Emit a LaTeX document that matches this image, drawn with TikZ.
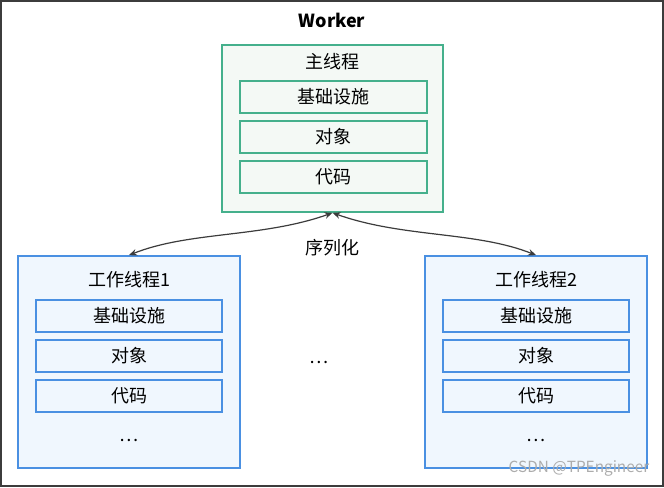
\documentclass[tikz,border=0pt]{standalone}
\usepackage{fontspec}
\setmainfont{Noto Sans CJK SC}
\usetikzlibrary{arrows.meta, positioning, calc}
\definecolor{mgreen}{HTML}{45B08C}
\definecolor{mgreenfill}{HTML}{F4F9F5}
\definecolor{wblue}{HTML}{4A90E2}
\definecolor{wbluefill}{HTML}{F0F7FE}
\definecolor{framegray}{HTML}{3C3C3C}

\begin{document}
\begin{tikzpicture}[x=0.75pt, y=-0.75pt, font=\fontsize{13.5}{16}\selectfont,
  mainbox/.style={draw=mgreen, fill=mgreenfill, line width=1.2pt, minimum width=165.75pt, minimum height=125.25pt},
  mainitem/.style={draw=mgreen, fill=mgreenfill, line width=1.2pt, minimum width=140.25pt, minimum height=24pt},
  workbox/.style={draw=wblue, fill=wbluefill, line width=1.2pt, minimum width=166.5pt, minimum height=159pt},
  workitem/.style={draw=wblue, fill=wbluefill, line width=1.2pt, minimum width=139.5pt, minimum height=24pt},
  link/.style={{Stealth[length=6pt,width=5pt]}-{Stealth[length=6pt,width=5pt]}, draw=framegray, line width=0.9pt}]
\useasboundingbox (0,0) rectangle (664,487);
\draw[framegray, line width=1.5pt] (1,1) rectangle (663,486);

\node[font=\fontsize{13.5}{16}\selectfont\bfseries] (title) at (332,20) {Worker};

% main thread
\node[mainbox] (main) at (332.5,128.5) {};
\node (maintitle) at (332,62) {主线程};
\node[mainitem] (infra) at (333.5,97) {基础设施};
\node[mainitem] (obj) at (333.5,137) {对象};
\node[mainitem] (code) at (333.5,177) {代码};

% worker threads
\foreach \i/\cx in {1/129, 2/536} {
  \node[workbox] (w\i) at (\cx,362) {};
  \node (w\i-title) at (\cx,280) {工作线程\i};
  \node[workitem] (w\i-infra) at (\cx,316) {基础设施};
  \node[workitem] (w\i-obj) at (\cx,356) {对象};
  \node[workitem] (w\i-code) at (\cx,396) {代码};
  \node (w\i-dots) at (\cx,440) {\dots};
}
\node (mdots) at (319,362) {\dots};

\node (ser) at (332,248) {序列化};
\draw[link] (main.south) .. controls +(-70,25) and +(60,-24) .. (w1.north);
\draw[link] (main.south) .. controls +(70,25) and +(-60,-24) .. (w2.north);

\node[text=gray!65, font=\fontsize{11.5}{13}\selectfont] (mark) at (579,468) {CSDN @TPEngineer};
\end{tikzpicture}
\end{document}
